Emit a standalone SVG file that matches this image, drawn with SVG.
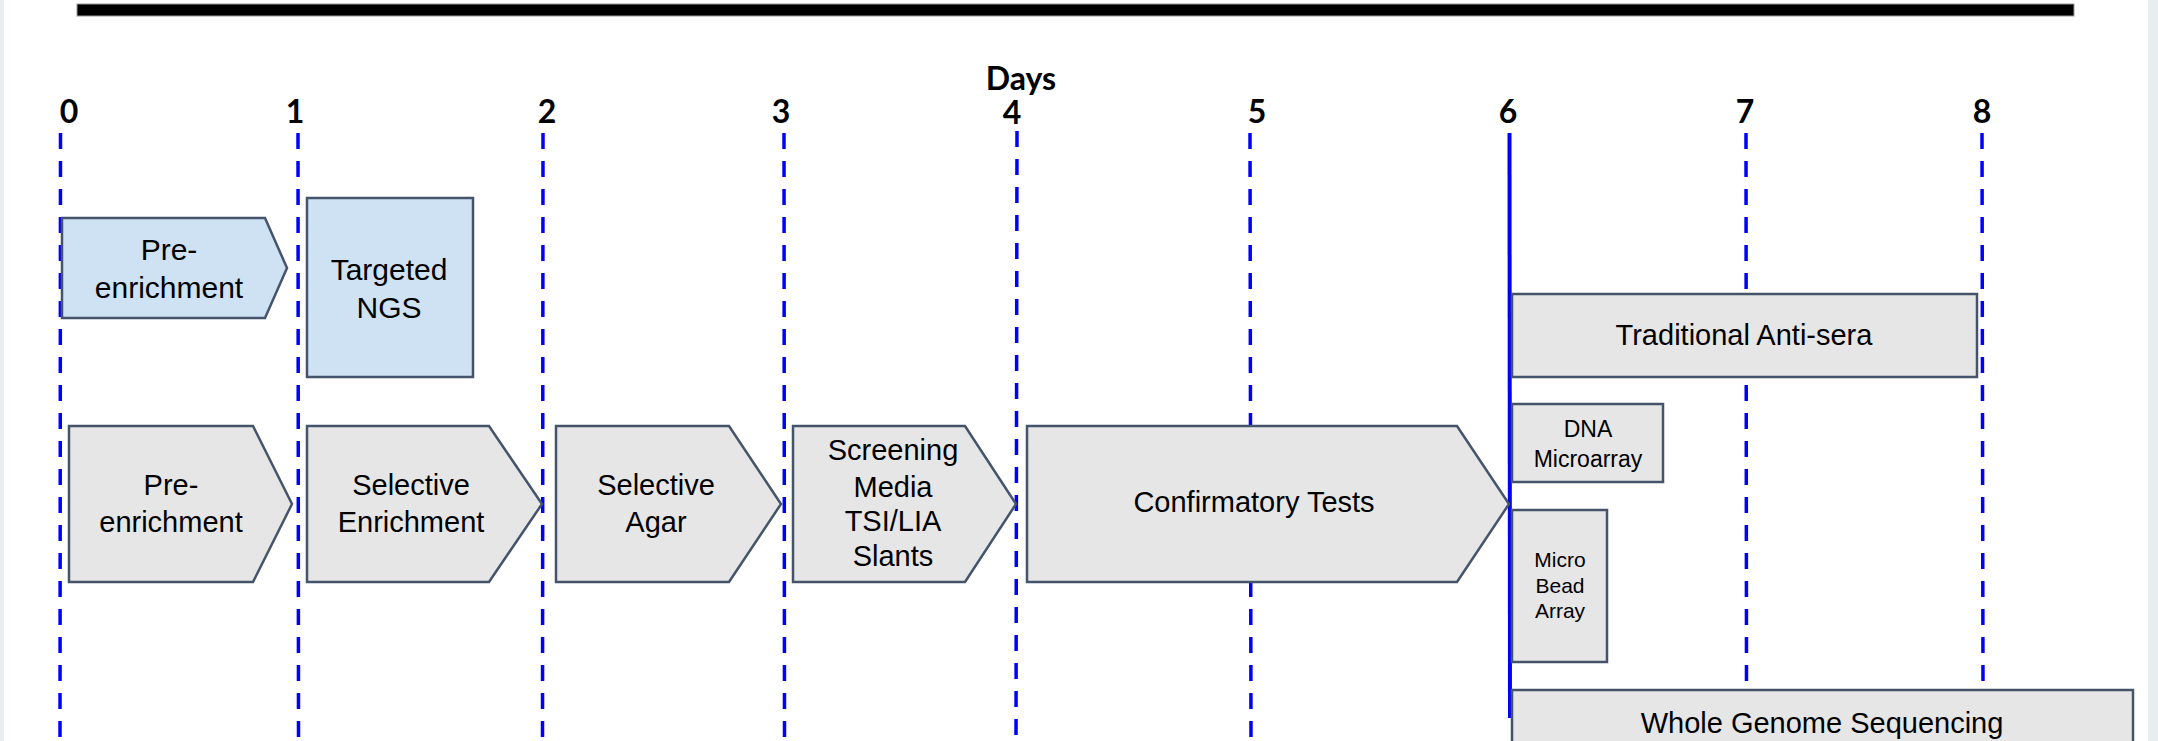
<svg xmlns="http://www.w3.org/2000/svg" width="2158" height="741" viewBox="0 0 2158 741">
<style>
.day{font-family:Lato,"Open Sans",sans-serif;font-weight:bold;font-size:32px;fill:#000;text-anchor:middle}
.t{font-family:"Liberation Sans",Arial,sans-serif;font-size:29px;fill:#000;text-anchor:middle}
.ts{font-family:"Liberation Sans",Arial,sans-serif;font-size:23px;fill:#000;text-anchor:middle}
.tx{font-family:"Liberation Sans",Arial,sans-serif;font-size:21px;fill:#000;text-anchor:middle}
.gray{fill:#e6e6e6;stroke:#44546a;stroke-width:2.5}
.blue{fill:#cfe2f3;stroke:#44546a;stroke-width:2.5}
.dash{stroke:#0000ff;stroke-width:3.5;stroke-dasharray:16 12;fill:none}
</style>
<rect x="0" y="0" width="2158" height="741" fill="#ffffff"/>
<rect x="0" y="0" width="4" height="741" fill="#e8eef0"/>
<rect x="2148" y="0" width="10" height="741" fill="#e8eef0"/>
<rect x="77" y="4" width="1997" height="12" fill="#000" stroke="#999" stroke-width="1"/>
<g id="axis">
<text class="day" x="1021" y="90">Days</text>
<text class="day" x="69" y="123">0</text>
<text class="day" x="295" y="123">1</text>
<text class="day" x="547" y="123">2</text>
<text class="day" x="781" y="123">3</text>
<text class="day" x="1012" y="124">4</text>
<text class="day" x="1257" y="123">5</text>
<text class="day" x="1508" y="123">6</text>
<text class="day" x="1745" y="123">7</text>
<text class="day" x="1982" y="123">8</text>
</g>
<g id="connectors">
<line class="dash" x1="60.5" y1="133" x2="60" y2="741"/>
<line class="dash" x1="298" y1="133" x2="298.5" y2="741"/>
<line class="dash" x1="543" y1="133" x2="542.5" y2="741"/>
<line class="dash" x1="784" y1="133" x2="784.5" y2="741"/>
<line class="dash" x1="1017" y1="131" x2="1016" y2="741"/>
<line class="dash" x1="1250" y1="133" x2="1251" y2="741"/>
<line class="dash" x1="1746" y1="133" x2="1746.5" y2="690"/>
<line class="dash" x1="1982" y1="133" x2="1983" y2="690"/>
<line x1="1509.5" y1="133" x2="1510" y2="718" stroke="#0000ff" stroke-width="4"/>
</g>
<g id="pre-enrichment-top">
<polygon class="blue" points="62,218 265,218 287,268 265,318 62,318"/>
<text class="t" x="169" y="260" style="font-size:30px">Pre-</text>
<text class="t" x="169" y="298" style="font-size:30px">enrichment</text>
</g>
<g id="targeted-ngs">
<rect class="blue" x="307" y="198" width="166" height="179"/>
<text class="t" x="389" y="280" style="font-size:30px">Targeted</text>
<text class="t" x="389" y="318" style="font-size:30px">NGS</text>
</g>
<g id="pre-enrichment">
<polygon class="gray" points="69,426 253,426 292,504 253,582 69,582"/>
<text class="t" x="171" y="495">Pre-</text>
<text class="t" x="171" y="532">enrichment</text>
</g>
<g id="selective-enrichment">
<polygon class="gray" points="307,426 489,426 542,504 489,582 307,582"/>
<text class="t" x="411" y="495">Selective</text>
<text class="t" x="411" y="532">Enrichment</text>
</g>
<g id="selective-agar">
<polygon class="gray" points="556,426 729,426 781,504 729,582 556,582"/>
<text class="t" x="656" y="495">Selective</text>
<text class="t" x="656" y="532">Agar</text>
</g>
<g id="screening-media">
<polygon class="gray" points="793,426 965,426 1016,504 965,582 793,582"/>
<text class="t" x="893" y="460">Screening</text>
<text class="t" x="893" y="497">Media</text>
<text class="t" x="893" y="531">TSI/LIA</text>
<text class="t" x="893" y="566">Slants</text>
</g>
<g id="confirmatory-tests">
<polygon class="gray" points="1027,426 1457,426 1509,504 1457,582 1027,582"/>
<text class="t" x="1254" y="512">Confirmatory Tests</text>
</g>
<g id="traditional-anti-sera">
<rect class="gray" x="1512" y="294" width="465" height="83"/>
<text class="t" x="1744" y="345">Traditional  Anti-sera</text>
</g>
<g id="dna-microarray">
<rect class="gray" x="1512" y="404" width="151" height="78"/>
<text class="ts" x="1588" y="437">DNA</text>
<text class="ts" x="1588" y="467">Microarray</text>
</g>
<g id="micro-bead-array">
<rect class="gray" x="1512" y="510" width="95" height="152"/>
<text class="tx" x="1560" y="567">Micro</text>
<text class="tx" x="1560" y="593">Bead</text>
<text class="tx" x="1560" y="618">Array</text>
</g>
<g id="whole-genome-sequencing">
<rect class="gray" x="1512" y="690" width="621" height="60"/>
<text class="t" x="1822" y="733">Whole Genome Sequencing</text>
</g>
</svg>
